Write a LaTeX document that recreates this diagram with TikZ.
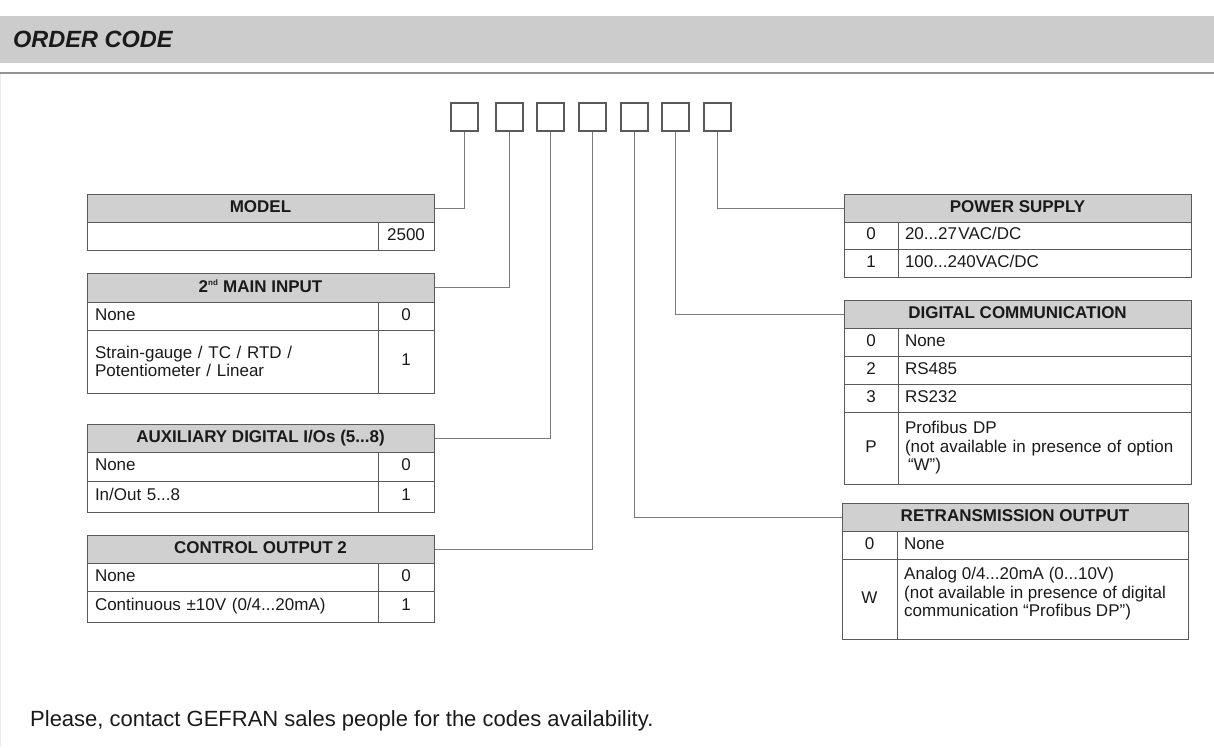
\documentclass[tikz,border=0pt]{standalone}
\usepackage{fontspec}
\setmainfont{Liberation Sans}
\definecolor{bandc}{HTML}{CCCCCC}
\definecolor{hdrc}{HTML}{D0D0D0}
\definecolor{bordc}{HTML}{5A5A5A}
\definecolor{connc}{HTML}{7A7A7A}
\definecolor{txtc}{HTML}{1A1A1A}
\newcommand\fsn{\fontsize{17}{18.5}\selectfont}
\newcommand\fsb{\fontsize{17}{18.5}\selectfont\bfseries}
\tikzset{
  tb/.style={draw=bordc, line width=1pt, inner sep=0pt, text=txtc, font=\fsn},
  hdr/.style={tb, fill=hdrc, font=\fsb, text height=12pt, text depth=3pt},
  val/.style={tb, align=center},
  one/.style={text height=12pt, text depth=3.5pt},
  descL/.style={tb, align=left, inner xsep=8pt, text width=#1},
  codebox/.style={draw=bordc, line width=1.1pt, minimum width=27, minimum height=28, inner sep=0pt},
  conn/.style={draw=connc, line width=1pt},
}
\begin{document}
\begin{tikzpicture}[x=1pt,y=-1pt]
\useasboundingbox (0,0) rectangle (1214,747);
% header band
\fill[bandc] (0,16) rectangle (1214,63);
\node[anchor=base west, inner sep=0pt, text=txtc, font=\fontsize{23.5}{26}\selectfont\bfseries\itshape] (title) at (13,47) {ORDER CODE};
\draw[color=black!42, line width=1.5pt] (0,73) -- (1214,73);
\draw[color=black!8, line width=1pt] (0.5,74) -- (0.5,747);

% code boxes
\node[codebox] (b1) at (464.5,117) {};
\node[codebox] (b2) at (509.5,117) {};
\node[codebox] (b3) at (550.5,117) {};
\node[codebox] (b4) at (592.5,117) {};
\node[codebox] (b5) at (634.5,117) {};
\node[codebox] (b6) at (675.5,117) {};
\node[codebox] (b7) at (717.5,117) {};

% ---------- left tables ----------
% MODEL
\node[hdr, minimum width=347, minimum height=28] (model) at (260.5,208) {MODEL};
\node[tb, minimum width=291, minimum height=28] (modelD) at (232.5,236) {};
\node[val, one, minimum width=56, minimum height=28] (modelV) at (406,236) {2500};

% 2nd MAIN INPUT
\node[hdr, minimum width=347, minimum height=29] (mainin) at (260.5,287.5) {2\textsuperscript{\fontsize{8}{8}\selectfont nd} MAIN INPUT};
\node[descL=275, one, minimum height=28] (mi1d) at (232.5,316) {None};
\node[val, one, minimum width=56, minimum height=28] (mi1v) at (406,316) {0};
\node[descL=275, minimum height=63] (mi2d) at (232.5,361.5) {Strain-gauge / TC / RTD /\\Potentiometer / Linear};
\node[val, one, minimum width=56, minimum height=63] (mi2v) at (406,361.5) {1};

% AUXILIARY DIGITAL I/Os
\node[hdr, minimum width=347, minimum height=28] (aux) at (260.5,438) {AUXILIARY DIGITAL I/Os (5...8)};
\node[descL=275, one, minimum height=29] (ax1d) at (232.5,466.5) {None};
\node[val, one, minimum width=56, minimum height=29] (ax1v) at (406,466.5) {0};
\node[descL=275, one, minimum height=31] (ax2d) at (232.5,496.5) {In/Out 5...8};
\node[val, one, minimum width=56, minimum height=31] (ax2v) at (406,496.5) {1};

% CONTROL OUTPUT 2
\node[hdr, minimum width=347, minimum height=28] (ctrl) at (260.5,549) {CONTROL OUTPUT 2};
\node[descL=275, one, minimum height=28] (ct1d) at (232.5,577) {None};
\node[val, one, minimum width=56, minimum height=28] (ct1v) at (406,577) {0};
\node[descL=275, one, minimum height=31] (ct2d) at (232.5,606.5) {Continuous ±10V (0/4...20mA)};
\node[val, one, minimum width=56, minimum height=31] (ct2v) at (406,606.5) {1};

% ---------- right tables ----------
% POWER SUPPLY
\node[hdr, minimum width=347, minimum height=28] (power) at (1017.5,208) {POWER SUPPLY};
\node[val, one, minimum width=54, minimum height=27] (ps1c) at (871,235.5) {0};
\node[descL=279, one, inner xsep=7pt, minimum height=27] (ps1d) at (1044.5,235.5) {20...27\kern1.5pt VAC/DC};
\node[val, one, minimum width=54, minimum height=28] (ps2c) at (871,263) {1};
\node[descL=279, one, inner xsep=7pt, minimum height=28] (ps2d) at (1044.5,263) {100...240VAC/DC};

% DIGITAL COMMUNICATION
\node[hdr, minimum width=347, minimum height=28] (digi) at (1017.5,314) {DIGITAL COMMUNICATION};
\node[val, one, minimum width=54, minimum height=28] (dc1c) at (871,342) {0};
\node[descL=279, one, inner xsep=7pt, minimum height=28] (dc1d) at (1044.5,342) {None};
\node[val, one, minimum width=54, minimum height=28] (dc2c) at (871,370) {2};
\node[descL=279, one, inner xsep=7pt, minimum height=28] (dc2d) at (1044.5,370) {RS485};
\node[val, one, minimum width=54, minimum height=28] (dc3c) at (871,398) {3};
\node[descL=279, one, inner xsep=7pt, minimum height=28] (dc3d) at (1044.5,398) {RS232};
\node[val, one, minimum width=54, minimum height=72] (dc4c) at (871,448) {P};
\node[descL=279, inner xsep=7pt, minimum height=72] (dc4d) at (1044.5,448) {Profibus DP\\(not available in presence of option\\\hspace*{3pt}“W”)};

% RETRANSMISSION OUTPUT
\node[hdr, minimum width=346, minimum height=28] (retr) at (1015,517) {RETRANSMISSION OUTPUT};
\node[val, one, minimum width=55, minimum height=28] (rt1c) at (869.5,545) {0};
\node[descL=277, one, inner xsep=7pt, minimum height=28] (rt1d) at (1042.5,545) {None};
\node[val, one, minimum width=55, minimum height=80] (rt2c) at (869.5,599) {W};
\node[tb, minimum width=291, minimum height=80] (rt2d) at (1042.5,599) {};
\node[anchor=west, align=left, inner sep=0pt, text=txtc, font=\fsn] (rt2t) at (904,594) {Analog 0/4...20mA (0...10V)\\(not available in presence of digital\\communication “Profibus DP”)};

% connectors
\draw[conn] (b1.south) |- (model.east);
\draw[conn] (b2.south) |- (mainin.east);
\draw[conn] (b3.south) |- (aux.east);
\draw[conn] (b4.south) |- (ctrl.east);
\draw[conn] (b5.south) |- (retr.west);
\draw[conn] (b6.south) |- (digi.west);
\draw[conn] (b7.south) |- (power.west);

% footer
\node[anchor=base west, inner sep=0pt, text=txtc, font=\fontsize{22}{24}\selectfont] (foot) at (30,726) {Please, contact GEFRAN sales people for the codes availability.};
\end{tikzpicture}
\end{document}
